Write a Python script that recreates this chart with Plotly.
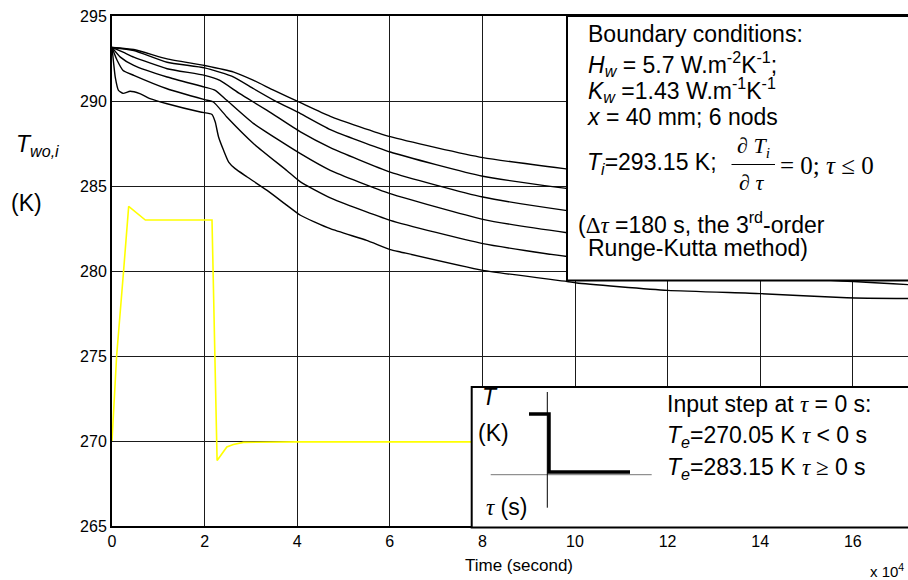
import plotly.graph_objects as go

# ---------------- data (time in units of 10^4 s, temperature in K) ----------------
t_node1 = [0, 0.47, 1.19, 2.0, 2.63, 3.06, 3.5, 4.07, 4.715, 6.01, 8.01, 9.83, 12, 14, 17.2]
T_node1 = [293.15, 293.03, 292.48, 292.09, 291.7, 291.21, 290.62, 289.9, 289.1, 287.9, 286.67, 286.0, 285.3, 284.7, 284.0]

t_node2 = [0, 0.47, 1.19, 2.0, 2.63, 3.06, 3.5, 4.07, 4.715, 6.01, 8.01, 9.83, 12, 14, 17.2]
T_node2 = [293.15, 292.97, 292.28, 291.95, 291.41, 290.72, 290.04, 289.26, 288.32, 287.0, 285.57, 284.85, 284.1, 283.5, 282.9]

t_node3 = [0, 0.24, 0.47, 1.19, 2.0, 2.33, 2.76, 3.35, 4.07, 4.715, 6.01, 8.01, 9.83, 12, 14, 17.2]
T_node3 = [293.15, 292.87, 292.58, 291.9, 291.51, 291.21, 290.43, 289.45, 288.18, 287.26, 285.82, 284.35, 283.55, 282.8, 282.2, 281.6]

t_node4 = [0, 0.18, 0.47, 1.19, 2.0, 2.23, 2.48, 3.06, 4.07, 4.715, 6.01, 8.01, 9.83, 12, 14, 17.2]
T_node4 = [293.15, 292.58, 292.09, 291.41, 290.82, 290.63, 290.04, 288.67, 286.9, 285.92, 284.55, 283.04, 282.25, 281.5, 281.0, 280.4]

t_node5 = [0, 0.11, 0.24, 0.47, 1.19, 2.0, 2.19, 2.48, 3.06, 3.78, 4.07, 4.715, 6.01, 8.01, 9.83, 12, 14, 17.2]
T_node5 = [293.15, 292.4, 291.8, 291.51, 290.72, 290.08, 289.94, 289.06, 287.49, 285.9, 285.24, 284.3, 282.98, 281.61, 280.85, 280.2, 279.7, 279.2]

t_node6 = [0, 0.036, 0.07, 0.14, 0.24, 0.39, 0.6, 0.82, 1.19, 1.91, 2.16, 2.23, 2.3, 2.41, 2.52, 2.66,
           2.92, 3.35, 3.78, 4.07, 4.715, 5.5, 6.01, 6.23, 8.01, 9.83, 10.04, 12, 14, 15.87, 17.2]
T_node6 = [293.15, 292.2, 291.41, 290.63, 290.45, 290.57, 290.43, 290.14, 289.84, 289.35, 289.21, 288.76,
           287.9, 287.1, 286.41, 286.02, 285.53, 284.74, 283.86, 283.28, 282.49, 281.8, 281.26, 281.12,
           280.04, 279.38, 279.29, 278.86, 278.67, 278.43, 278.38]

t_input = [0, 0.1, 0.25, 0.36, 0.72, 2.16, 2.27, 2.48, 2.62, 2.84, 4.0, 17.2]
T_input = [270.0, 275.0, 280.0, 283.8, 283.0, 283.0, 268.85, 269.65, 269.8, 269.92, 269.95, 269.95]

x_ticks = [0, 2, 4, 6, 8, 10, 12, 14, 16]
y_ticks = [265, 270, 275, 280, 285, 290, 295]

# ---------------- geometry ----------------
W, H = 908, 580
L, R, T, B = 112, 0, 16, 54
PW, PH = W - L - R, H - T - B
PX_PER_UNIT = 46.3
x_max = PW / PX_PER_UNIT

SANS = "Arial, Liberation Sans, sans-serif"
SERIF = "Times New Roman, Liberation Serif, serif"


def xp(px):
    return (px - L) / PW


def yp(py):
    return (H - B - py) / PH


def ann(text, px, py, size=23, xanchor="left", family=SANS):
    return dict(text=text, x=xp(px), y=yp(py), xref="paper", yref="paper",
                xanchor=xanchor, yanchor="middle", showarrow=False,
                font=dict(size=size, family=family, color="black"))


def sf(s):
    return '<span style="font-family:Times New Roman, Liberation Serif, serif">' + s + '</span>'


fig = go.Figure()
for tt, yy in [(t_node1, T_node1), (t_node2, T_node2), (t_node3, T_node3),
               (t_node4, T_node4), (t_node5, T_node5), (t_node6, T_node6)]:
    fig.add_trace(go.Scatter(x=tt, y=yy, mode="lines",
                             line=dict(color="black", width=1.4, shape="spline", smoothing=0.5),
                             showlegend=False, hoverinfo="skip"))
fig.add_trace(go.Scatter(x=t_input, y=T_input, mode="lines", line=dict(color="#FFFF00", width=1.6),
                         showlegend=False, hoverinfo="skip"))

shapes = []
# top-right box
shapes.append(dict(type="rect", xref="paper", yref="paper", x0=xp(567), x1=xp(915), y0=yp(280.5), y1=yp(16),
                   fillcolor="white", line=dict(color="black", width=2), layer="above"))
# fraction bar
shapes.append(dict(type="line", xref="paper", yref="paper", x0=xp(731.5), x1=xp(775), y0=yp(164.5), y1=yp(164.5),
                   line=dict(color="black", width=1), layer="above"))
# bottom-right box
shapes.append(dict(type="rect", xref="paper", yref="paper", x0=xp(471.7), x1=xp(915), y0=yp(527.5), y1=yp(387),
                   fillcolor="white", line=dict(color="black", width=2), layer="above"))
# inset axes
shapes.append(dict(type="line", xref="paper", yref="paper", x0=xp(490.7), x1=xp(651.7), y0=yp(474.7), y1=yp(474.7),
                   line=dict(color="#777777", width=1), layer="above"))
shapes.append(dict(type="line", xref="paper", yref="paper", x0=xp(547.3), x1=xp(547.3), y0=yp(392), y1=yp(507.7),
                   line=dict(color="black", width=1), layer="above"))
# inset step
shapes.append(dict(type="path", xref="paper", yref="paper",
                   path="M {a},{b} L {c},{b} L {c},{d} L {e},{d}".format(
                       a=xp(529), b=yp(414), c=xp(549), d=yp(472), e=xp(630)),
                   line=dict(color="black", width=3.5), layer="above"))

annotations = [
    # y title
    ann("<i>T<sub>wo,i</sub></i>", 14, 145, 23),
    ann("(K)", 9, 203, 23),
    # x title
    ann("Time (second)", 519, 565, 17, xanchor="center"),
    ann("x 10<sup>4</sup>", 868, 570, 15),
    # top box
    ann("Boundary conditions:", 586, 34),
    ann("<i>H<sub>w</sub></i> = 5.7 W.m<sup>-2</sup>K<sup>-1</sup>;", 586, 64),
    ann("<i>K<sub>w</sub></i> =1.43 W.m<sup>-1</sup>K<sup>-1</sup>", 586, 90),
    ann("<i>x</i> = 40 mm; 6 nods", 585, 117),
    ann("<i>T<sub>i</sub></i>=293.15 K;", 585, 164),
    ann("∂ <i>T<sub>i</sub></i>", 753, 147, 22, xanchor="center", family=SERIF),
    ann("∂ <i>τ</i>", 751, 183, 22, xanchor="center", family=SERIF),
    ann("= 0; <i>τ</i> ≤ 0", 778, 166, 25, family=SERIF),
    ann("(" + sf("Δ<i>τ</i>") + " =180 s, the 3<sup>rd</sup>-order", 576, 223),
    ann("Runge-Kutta method)", 586, 248),
    # bottom box
    ann("<i>T</i>", 480, 397),
    ann("(K)", 476, 433),
    ann(sf("<i>τ</i>") + " (s)", 484, 507),
    ann("Input step at " + sf("<i>τ</i>") + " = 0 s:", 665, 404),
    ann("<i>T<sub>e</sub></i>=270.05 K " + sf("<i>τ</i>") + " &lt; 0 s", 665, 436),
    ann("<i>T<sub>e</sub></i>=283.15 K " + sf("<i>τ</i> ≥") + " 0 s", 665, 468),
]

fig.update_layout(
    width=W, height=H,
    margin=dict(l=L, r=R, t=T, b=B, pad=0),
    paper_bgcolor="white", plot_bgcolor="white",
    font=dict(family=SANS, color="black", size=16),
    showlegend=False,
    shapes=shapes,
    annotations=annotations,
    xaxis=dict(range=[0, x_max], tickvals=x_ticks, ticktext=[str(v) for v in x_ticks],
               showgrid=True, gridcolor="#1a1a1a", gridwidth=1, zeroline=False,
               showline=True, linecolor="black", linewidth=2, mirror=True,
               ticks="", tickfont=dict(size=16, family=SANS, color="black")),
    yaxis=dict(range=[265, 295], tickvals=y_ticks, ticktext=[str(v) for v in y_ticks],
               showgrid=True, gridcolor="#1a1a1a", gridwidth=1, zeroline=False,
               showline=True, linecolor="black", linewidth=2, mirror=False,
               ticks="", tickfont=dict(size=16, family=SANS, color="black")),
)

fig.write_html("out.html", config={"displayModeBar": False},
               post_script="document.body.style.margin='0px';")
